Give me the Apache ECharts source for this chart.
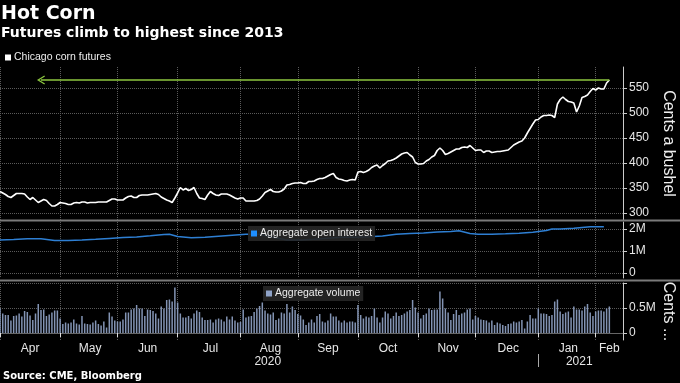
<!DOCTYPE html>
<html><head><meta charset="utf-8">
<script src="https://cdn.jsdelivr.net/npm/echarts@6/dist/echarts.min.js"></script>
<style>html,body{margin:0;padding:0;background:#000;}#c{width:680px;height:383px;}</style>
</head><body><div id="c"></div>
<script>
// ---- data ----
const firstDay = '2020-04-01';   // first weekday slot on the axis
const lastDay = '2021-02-15';    // last weekday slot on the axis
const monthNames = ['Jan','Feb','Mar','Apr','May','Jun','Jul','Aug','Sep','Oct','Nov','Dec'];

// Chicago corn futures, cents a bushel, one value per weekday from 2020-04-01
const price = [
343,340,337,333,331,335,339,339,339,338,
332,327,331,326,321,324,327,325,319,314,
314,317,321,320,319,317,317,320,321,320,
322,322,320,321,321,321,322,322,322,322,
325,328,328,326,326,326,330,333,334,331,
331,335,336,336,336,337,338,339,337,332,
329,326,324,321,330,340,351,346,349,345,
347,351,339,330,329,327,336,343,339,336,
335,338,338,338,336,333,330,328,330,330,
324,324,324,324,325,328,334,341,344,347,
343,342,342,344,348,356,357,359,360,360,
361,359,359,363,363,364,367,369,369,371,
374,377,379,371,368,367,365,364,366,367,
366,382,383,381,383,386,391,394,396,390,
395,399,404,405,407,410,414,418,420,421,
416,412,401,398,398,399,404,407,412,415,
425,430,425,417,419,422,425,428,428,431,
432,431,435,430,425,426,426,421,424,424,
421,422,423,423,424,425,426,431,436,439,
442,444,450,460,469,478,486,487,492,495,
495,496,495,491,518,527,532,527,523,522,
520,502,514,531,533,536,543,549,546,550,
548,548,560,566
];

// Aggregate volume, millions of contracts, one value per weekday from 2020-04-01
const volume = [
0.49,0.39,0.36,0.36,0.25,0.34,0.35,0.39,0.33,0.44,
0.42,0.35,0.26,0.39,0.58,0.46,0.47,0.34,0.37,0.41,
0.45,0.45,0.29,0.18,0.21,0.19,0.21,0.27,0.19,0.17,
0.34,0.19,0.18,0.17,0.21,0.25,0.18,0.15,0.23,0.11,
0.41,0.33,0.25,0.23,0.23,0.27,0.41,0.41,0.47,0.49,
0.56,0.49,0.49,0.34,0.47,0.46,0.44,0.39,0.29,0.53,
0.49,0.66,0.67,0.63,0.91,0.61,0.39,0.31,0.31,0.34,
0.29,0.39,0.45,0.42,0.31,0.26,0.26,0.27,0.21,0.27,
0.29,0.27,0.23,0.33,0.27,0.33,0.25,0.21,0.22,0.47,
0.31,0.33,0.34,0.42,0.49,0.54,0.61,0.45,0.39,0.37,
0.41,0.26,0.29,0.41,0.39,0.58,0.41,0.53,0.46,0.38,
0.35,0.27,
0.16,0.21,0.27,0.21,0.34,0.38,0.23,0.21,0.25,0.39,
0.33,0.33,0.25,0.21,0.25,0.21,0.23,0.23,0.21,0.56,
0.36,0.29,0.33,0.31,0.34,0.49,0.31,0.21,0.31,
0.43,0.39,0.29,0.34,0.41,0.34,0.36,0.39,0.43,0.46,
0.66,0.51,0.41,0.29,0.36,0.39,0.49,0.46,0.47,0.47,
0.83,0.69,0.49,0.41,0.26,0.38,0.46,0.36,0.39,0.41,
0.47,0.49,0.27,0.34,0.31,0.27,0.26,0.25,0.21,0.25,
0.16,0.21,0.19,0.16,0.14,0.18,0.19,0.23,0.21,
0.23,0.26,0.09,0.23,0.36,0.29,0.29,0.49,0.39,0.39,
0.38,0.34,0.36,0.63,0.67,0.43,0.38,0.41,0.43,0.31,
0.53,0.47,0.47,0.45,0.53,0.58,0.41,0.34,0.43,0.45,
0.45,0.43,0.49,0.53
];

// Aggregate open interest (millions), read at these weekday slots
const oiSlot = [0,5,10,15,20,25,30,35,40,45,50,55,60,62,65,70,75,80,85,90,95,100,105,110,115,120,125,130,135,140,145,150,155,160,165,168,172,175,180,185,190,195,200,202,205,210,216,221];
const oiValue = [1.50,1.52,1.56,1.56,1.48,1.48,1.50,1.53,1.57,1.61,1.64,1.69,1.75,1.76,1.66,1.60,1.62,1.67,1.72,1.76,1.76,1.62,1.50,1.50,1.53,1.58,1.62,1.63,1.65,1.68,1.76,1.80,1.82,1.86,1.89,1.92,1.80,1.76,1.76,1.78,1.81,1.85,1.93,2.00,2.00,2.03,2.10,2.10];

const priceTicks = [300,350,400,450,500,550];
const oiTicks = [0,1,2];
const volTicks = [0,0.5,1];
const volLabels = [0,0.5];
const arrowSlot = 15; // where the "highest since" arrow points back to

// ---- axis categories: weekdays ----
const dates = [];
{
  let d = new Date(firstDay + 'T00:00:00Z');
  const end = new Date(lastDay + 'T00:00:00Z');
  while (d <= end) {
    const w = d.getUTCDay();
    if (w !== 0 && w !== 6) dates.push(d.toISOString().slice(0, 10));
    d = new Date(d.getTime() + 86400000);
  }
}
const lastIdx = dates.length - 1;
const monthStarts = [];
dates.forEach((s, i) => { if (i === 0 || s.slice(0, 7) !== dates[i - 1].slice(0, 7)) monthStarts.push(i); });
const monthStartSet = new Set(monthStarts);
const monthLabelSet = new Set();
monthStarts.forEach((s, k) => {
  const e = k + 1 < monthStarts.length ? monthStarts[k + 1] : lastIdx;
  monthLabelSet.add(Math.round((s + e) / 2));
});
const yearStarts = [0];
dates.forEach((s, i) => { if (i > 0 && s.slice(0, 4) !== dates[i - 1].slice(0, 4)) yearStarts.push(i); });
const yearStartSet = new Set(yearStarts.slice(1));
const yearLabelSet = new Set();
yearStarts.forEach((s, k) => {
  const e = k + 1 < yearStarts.length ? yearStarts[k + 1] : lastIdx;
  yearLabelSet.add(Math.floor((s + e) / 2));
});

const oiData = oiSlot.map((s, i) => [dates[s], oiValue[i]]);
const lastPrice = price[price.length - 1];

// ---- chart ----
const gridLine = { color: '#5a5a5a', type: 'dotted', width: 1 };
const axisFont = { color: '#e6e6e6', fontSize: 12, fontFamily: 'Liberation Sans' };
function hiddenX(g) {
  return {
    type: 'category', gridIndex: g, data: dates, boundaryGap: false,
    axisLine: { show: false }, axisTick: { show: false }, axisLabel: { show: false },
    splitLine: { show: true, interval: (i) => monthStartSet.has(i), lineStyle: gridLine }
  };
}
const chevron = 'path://M5,0 L10,8.6 L8.8,9.4 L5,2.8 L1.2,9.4 L0,8.6 Z';

const option = {
  backgroundColor: '#000',
  animation: false,
  title: [
    { text: 'Hot Corn', left: 1, top: 5, padding: 0, textStyle: { color: '#fff', fontSize: 19, fontWeight: 'bold', fontFamily: 'DejaVu Sans' } },
    { text: 'Futures climb to highest since 2013', left: 1, top: 26, padding: 0, textStyle: { color: '#fff', fontSize: 14, fontWeight: 'bold', fontFamily: 'DejaVu Sans' } },
    { text: 'Source: CME, Bloomberg', left: 3, top: 371, padding: 0, textStyle: { color: '#fff', fontSize: 10, fontWeight: 'bold', fontFamily: 'DejaVu Sans' } }
  ],
  legend: [
    { data: [{ name: 'Chicago corn futures', itemStyle: { color: '#fff' } }], left: 5, top: 52, padding: 0, icon: 'rect', itemWidth: 6, itemHeight: 6, selectedMode: false,
      textStyle: { color: '#eee', fontSize: 10.5, fontFamily: 'Liberation Sans', padding: [0, 0, 0, -2] } },
    { data: [{ name: 'Aggregate open interest', itemStyle: { color: '#1e8fff' } }], left: 248, top: 226, padding: [2, 3, 2, 3], backgroundColor: 'rgba(38,38,38,0.92)', icon: 'rect', itemWidth: 6, itemHeight: 6, selectedMode: false,
      textStyle: { color: '#eee', fontSize: 10.5, fontFamily: 'Liberation Sans', padding: [0, 0, 0, -2] } },
    { data: [{ name: 'Aggregate volume', itemStyle: { color: '#8fa3c8' } }], left: 263, top: 286, padding: [2, 3, 2, 3], backgroundColor: 'rgba(38,38,38,0.92)', icon: 'rect', itemWidth: 6, itemHeight: 6, selectedMode: false,
      textStyle: { color: '#eee', fontSize: 10.5, fontFamily: 'Liberation Sans', padding: [0, 0, 0, -2] } }
  ],
  grid: [
    { left: 0, right: 57, top: 67, height: 153, outerBoundsMode: 'none', containLabel: false },
    { left: 0, right: 57, top: 222, height: 56, outerBoundsMode: 'none', containLabel: false },
    { left: 0, right: 57, top: 283, height: 57, outerBoundsMode: 'none', containLabel: false }
  ],
  xAxis: [
    hiddenX(0),
    hiddenX(1),
    {
      type: 'category', gridIndex: 2, data: dates, boundaryGap: false,
      axisLine: { show: true, lineStyle: { color: '#666' } },
      axisTick: { show: true, interval: (i) => monthStartSet.has(i), length: 4, lineStyle: { color: '#ddd' } },
      axisLabel: { show: true, interval: (i) => monthLabelSet.has(i), margin: 3, ...axisFont,
        formatter: (v) => monthNames[parseInt(v.slice(5, 7), 10) - 1] },
      splitLine: { show: true, interval: (i) => monthStartSet.has(i), lineStyle: gridLine }
    },
    {
      type: 'category', gridIndex: 2, data: dates, boundaryGap: false, position: 'bottom', offset: 14,
      axisLine: { show: false },
      axisTick: { show: true, interval: (i) => yearStartSet.has(i), length: 13, lineStyle: { color: '#aaa' } },
      axisLabel: { show: true, interval: (i) => yearLabelSet.has(i), margin: 2, ...axisFont,
        formatter: (v) => v.slice(0, 4) },
      splitLine: { show: false }
    }
  ],
  yAxis: [
    {
      type: 'value', gridIndex: 0, position: 'right', min: 286, max: 592,
      axisLine: { show: true, lineStyle: { color: '#ccc' } },
      axisTick: { show: true, length: 4, customValues: priceTicks, lineStyle: { color: '#ccc' } },
      axisLabel: { customValues: priceTicks, margin: 6, ...axisFont },
      splitLine: { show: true, lineStyle: gridLine },
      name: 'Cents a bushel', nameLocation: 'middle', nameRotate: -90, nameGap: 37, nameMoveOverlap: false,
      nameTextStyle: { color: '#eee', fontSize: 16, fontFamily: 'Liberation Sans' }
    },
    {
      type: 'value', gridIndex: 1, position: 'right', min: -0.227, max: 2.318,
      axisLine: { show: true, lineStyle: { color: '#ccc' } },
      axisTick: { show: true, length: 4, customValues: oiTicks, lineStyle: { color: '#ccc' } },
      axisLabel: { customValues: oiTicks, margin: 6, ...axisFont, formatter: (v) => v === 0 ? '0' : v + 'M' },
      splitLine: { show: true, lineStyle: gridLine }
    },
    {
      type: 'value', gridIndex: 2, position: 'right', min: -0.14, max: 1.0,
      axisLine: { show: true, lineStyle: { color: '#ccc' } },
      axisTick: { show: true, length: 4, customValues: volTicks, lineStyle: { color: '#ccc' } },
      axisLabel: { customValues: volLabels, margin: 6, ...axisFont, formatter: (v) => v === 0 ? '0' : v + 'M' },
      splitLine: { show: true, lineStyle: gridLine },
      name: 'Cents ...', nameLocation: 'middle', nameRotate: -90, nameGap: 37, nameMoveOverlap: false,
      nameTextStyle: { color: '#eee', fontSize: 16, fontFamily: 'Liberation Sans' }
    }
  ],
  series: [
    {
      name: 'Chicago corn futures', type: 'line', xAxisIndex: 0, yAxisIndex: 0, data: price,
      showSymbol: false, lineStyle: { color: '#fff', width: 1.6 }, itemStyle: { color: '#fff' },
      markLine: {
        silent: true, symbol: [chevron, 'none'], symbolSize: [9, 8],
        lineStyle: { color: '#8cc63f', width: 1.6, type: 'solid' }, label: { show: false },
        data: [[{ coord: [dates[arrowSlot], lastPrice] }, { coord: [dates[price.length - 1], lastPrice] }]]
      }
    },
    {
      name: 'Aggregate open interest', type: 'line', xAxisIndex: 1, yAxisIndex: 1, data: oiData,
      showSymbol: false, lineStyle: { color: '#2e7fd3', width: 1.5 }, itemStyle: { color: '#1e8fff' }
    },
    {
      name: 'Aggregate volume', type: 'bar', xAxisIndex: 2, yAxisIndex: 2, data: volume,
      barWidth: 1.5, itemStyle: { color: '#8394b4' }
    }
  ],
  graphic: [
    { type: 'rect', shape: { x: 0, y: 219.5, width: 680, height: 2 }, style: { fill: '#7a7a7a' }, z: 10 },
    { type: 'rect', shape: { x: 0, y: 279.5, width: 680, height: 2 }, style: { fill: '#7a7a7a' }, z: 10 }
  ]
};
const chart = echarts.init(document.getElementById('c'), null, { renderer: 'canvas' });
chart.setOption(option);
</script></body></html>
